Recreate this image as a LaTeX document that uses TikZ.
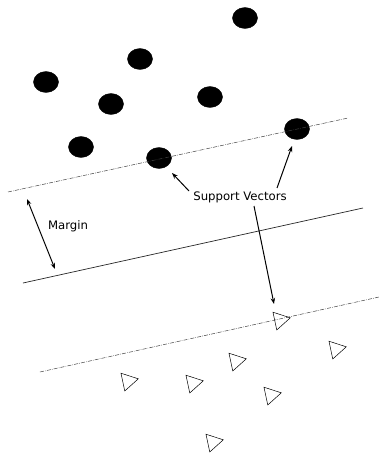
\documentclass[tikz,border=0pt]{standalone}
\usepackage{fontspec}
\setmainfont{DejaVu Sans}
\usetikzlibrary{shapes.geometric,arrows.meta}
\begin{document}
\begin{tikzpicture}[x=1pt,y=-1pt,
  dot/.style={ellipse,fill=black,draw=black,minimum width=25pt,minimum height=21pt,inner sep=0pt},
  tri/.style={regular polygon,regular polygon sides=3,draw=black,line width=0.5pt,minimum size=21pt,inner sep=0pt,shape border rotate=-78},
  marginline/.style={line width=0.5pt,draw=black!75,dash pattern=on 4pt off 1.2pt on 0.6pt off 1.2pt},
  sepline/.style={line width=0.7pt,draw=black!85},
  arr/.style={line width=1pt,-{Stealth[length=6pt,width=4.5pt]}},
  lbl/.style={font=\fontsize{11.7}{13}\selectfont,inner sep=1pt}]
\useasboundingbox (0,0) rectangle (379,457);
% filled class
\node[dot] (c1) at (245,18) {};
\node[dot] (c2) at (140,59) {};
\node[dot] (c3) at (46,82) {};
\node[dot] (c4) at (111,104) {};
\node[dot] (c5) at (210,97) {};
\node[dot] (c6) at (81,147) {};
\node[dot] (sv1) at (159,158) {};
\node[dot] (sv2) at (297,129) {};
% hyperplanes
\coordinate (u1) at (8,192);
\coordinate (u2) at (348,118);
\coordinate (m1) at (23,283);
\coordinate (m2) at (363,208);
\coordinate (l1) at (40,372);
\coordinate (l2) at (379,297);
\draw[marginline] (u1) -- (u2);
\draw[sepline] (m1) -- (m2);
\draw[marginline] (l1) -- (l2);
% triangles
\node[tri] (sv3) at (280,320) {};
\node[tri] (t1) at (336,349) {};
\node[tri] (t2) at (236,361) {};
\node[tri] (t3) at (128,381) {};
\node[tri] (t4) at (193,383) {};
\node[tri] (t5) at (271,395) {};
\node[tri] (t6) at (213,442) {};
% labels
\node[lbl] (sv) at (240,197) {Support Vectors};
\node[lbl] (mg) at (68,226) {Margin};
% arrows
\coordinate (a1s) at (189,191);
\coordinate (a1e) at (172,173);
\coordinate (a2s) at (277,188);
\coordinate (a2e) at (292,146);
\coordinate (a3s) at (254,206);
\coordinate (a3e) at (274,304);
\coordinate (ms) at (27,199);
\coordinate (me) at (55,269);
\draw[arr] (a1s) -- (a1e);
\draw[arr] (a2s) -- (a2e);
\draw[arr] (a3s) -- (a3e);
\draw[line width=1pt,{Stealth[length=6pt,width=4.5pt]}-{Stealth[length=6pt,width=4.5pt]}] (ms) -- (me);
\end{tikzpicture}
\end{document}
